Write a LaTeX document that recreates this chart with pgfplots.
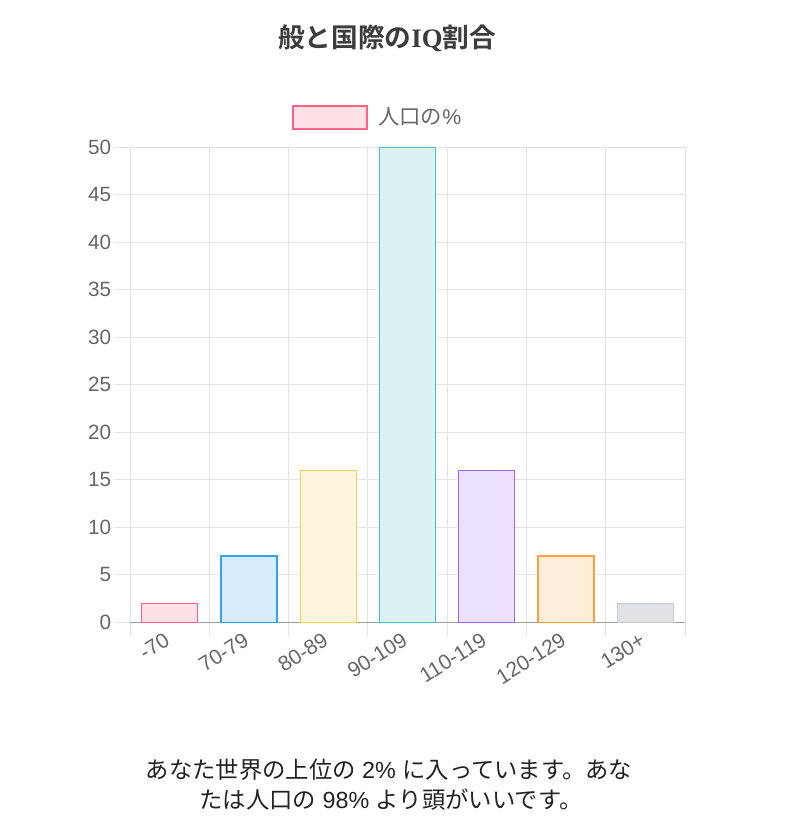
\documentclass[border=0pt]{standalone}
\usepackage{fontspec}
\setmainfont{Liberation Sans}
\newfontfamily\jp{Noto Sans CJK JP}
\newfontfamily\jpb{Noto Sans CJK JP Bold}
\newfontfamily\serifb{Liberation Serif Bold}
\usepackage{pgfplots}
\pgfplotsset{compat=1.18}
\definecolor{cred}{RGB}{255,99,132}
\definecolor{cblue}{RGB}{54,162,235}
\definecolor{cyellow}{RGB}{255,205,86}
\definecolor{cteal}{RGB}{75,192,192}
\definecolor{cpurple}{RGB}{153,102,255}
\definecolor{corange}{RGB}{255,159,64}
\definecolor{cgrey}{RGB}{201,203,207}
\definecolor{ticktext}{RGB}{102,102,102}
\definecolor{gridc}{RGB}{228,228,228}
\definecolor{axisc}{RGB}{160,160,160}
\definecolor{titlec}{RGB}{60,60,60}
\definecolor{bodyc}{RGB}{34,34,34}
\pgfplotsset{bstyle/.style={ybar, bar width=42pt, bar shift=0pt, line width=1pt}}
\begin{document}
\begin{tikzpicture}[x=0.75pt,y=0.75pt]
\path[use as bounding box] (0,0) rectangle (800,838);
\begin{axis}[
  at={(164,227)}, anchor=south west,
  width=416.25pt, height=356.25pt, scale only axis,
  xmin=-0.5, xmax=6.5, ymin=0, ymax=50,
  xtick={0,1,2,3,4,5,6},
  xticklabels={-70,70-79,80-89,90-109,110-119,120-129,130+},
  minor xtick={-0.5,0.5,1.5,2.5,3.5,4.5,5.5,6.5},
  ytick={0,5,...,50},
  xminorgrids, ymajorgrids,
  grid style={gridc, line width=0.75pt},
  minor grid style={gridc, line width=0.75pt},
  tick align=outside,
  major x tick style={draw=none},
  minor x tick style={gridc, line width=0.75pt},
  minor tick length=10.5pt,
  y tick style={gridc, line width=0.75pt},
  major tick length=12pt,
  axis x line*=bottom, axis y line*=left,
  x axis line style={-, axisc, line width=0.9pt},
  y axis line style={-, gridc, line width=0.75pt},
  /pgf/number format/assume math mode=true,
  tick label style={font=\fontsize{15.5}{18}\selectfont, text=ticktext},
  xticklabel style={font=\fontsize{15.75}{18}\selectfont, xshift=-4.5pt, yshift=6.5pt, rotate=32, anchor=north east, inner sep=1pt},
  yticklabel style={inner sep=2pt},
]
\addplot[bstyle, draw=cred, fill=cred!20!white] coordinates {(0,2)};
\addplot[bstyle, draw=cblue, fill=cblue!20!white] coordinates {(1,7)};
\addplot[bstyle, draw=cyellow, fill=cyellow!20!white] coordinates {(2,16)};
\addplot[bstyle, draw=cteal, fill=cteal!20!white] coordinates {(3,50)};
\addplot[bstyle, draw=cpurple, fill=cpurple!20!white] coordinates {(4,16)};
\addplot[bstyle, draw=corange, fill=corange!20!white] coordinates {(5,7)};
\addplot[bstyle, draw=cgrey, fill=cgrey!55!white] coordinates {(6,2)};
\end{axis}
% legend
\draw[cred, fill=cred!20!white, line width=1pt] (293,709) rectangle (367,732);
\node[anchor=west, inner sep=0pt, text=ticktext, font=\fontsize{16}{19}\selectfont] at (378,721) {\jp 人口の\rmfamily\%};
% title
\node[text=titlec, inner sep=0pt, font=\fontsize{20}{24}\selectfont] at (387,800) {\jpb 般と国際の\serifb IQ\jpb 割合};
% bottom text
\node[text=bodyc, inner sep=0pt, font=\fontsize{17.5}{21}\selectfont] at (389,68) {\jp あなた世界の上位の\rmfamily{} 2\% \jp に入っています。あな};
\node[text=bodyc, inner sep=0pt, font=\fontsize{17.5}{21}\selectfont] at (391,38) {\jp たは人口の\rmfamily{} 98\% \jp より頭がいいです。};
\end{tikzpicture}
\end{document}
